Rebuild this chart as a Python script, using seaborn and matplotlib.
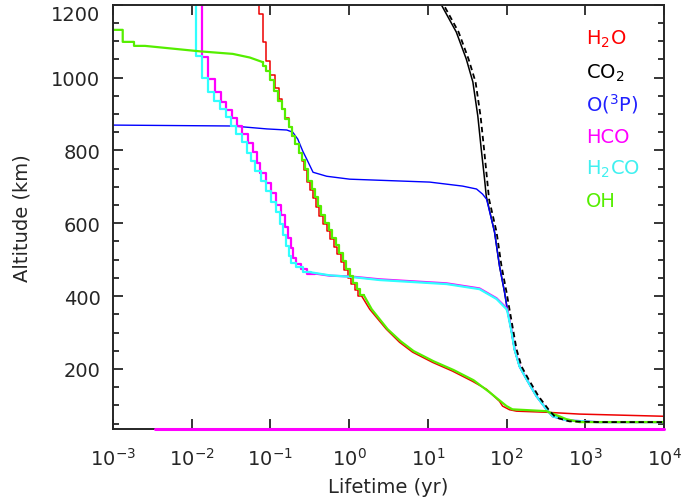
import matplotlib
matplotlib.use("Agg")
import matplotlib.pyplot as plt
import matplotlib.ticker as mticker
import seaborn as sns

# lifetime (yr) vs altitude (km)
h2o_step_x = [0.0712, 0.0808, 0.0892, 0.1003, 0.1137, 0.1278, 0.1408, 0.1554, 0.1713, 0.1885,
              0.2083, 0.2293, 0.2504, 0.2654, 0.2896, 0.3162, 0.3452, 0.3769, 0.4175, 0.4665,
              0.5166, 0.574, 0.6357, 0.7063, 0.7822, 0.8692, 0.9627, 1.070, 1.178, 1.305, 1.445]
h2o_step_alt = [1260, 1174, 1097, 1046, 1007, 970, 941, 913, 888, 863,
                840, 817, 794, 771, 746, 713, 691, 669, 644, 620,
                599, 578, 557, 536, 515, 493, 472, 451, 433, 416, 400]
h2o_tail_x = [1.445, 1.826, 2.974, 4.386, 6.415, 11.5, 20.6, 37.0, 55.8, 81.5, 89, 109, 134, 322, 844, 1e4]
h2o_tail_alt = [400, 364, 309, 273, 246, 218, 194, 166, 144, 111, 98, 88, 84, 81, 76, 70]

co2_x = [13.0, 14.84, 23.0, 30.8, 37.35, 43.2, 47.7, 52.6, 55.3, 70.4, 81.5, 94.3, 103, 116, 126,
         146, 179, 240, 322, 384, 577, 1387, 1e4]
co2_alt = [1230, 1200, 1125, 1051, 988, 894, 804, 721, 674, 576, 482, 411, 360, 301, 254,
           207, 172, 125, 89, 70, 59, 54, 54]

co2b_x = [14.0, 15.87, 24.6, 32.9, 40.4, 46.8, 51.8, 56.6, 60.0, 74.7, 86.4, 100, 109, 122.7, 134,
          155, 190, 255, 341, 419, 630, 1514, 1e4]
co2b_alt = [1230, 1200, 1125, 1051, 988, 894, 804, 721, 666, 576, 482, 411, 364, 301, 254,
            207, 172, 125, 89, 67, 56, 54, 54]

o3p_x = [5e-4, 0.0333, 0.090, 0.1615, 0.1924, 0.2227, 0.2578, 0.2896, 0.3482, 0.5195, 1.018,
         2.445, 10.54, 27.64, 41.6, 49.6, 55.8, 70.4, 81.5, 94.3, 103, 116, 126, 146, 179, 240,
         322, 384, 577, 1387, 1e4]
o3p_alt = [870, 867, 859, 856, 850, 831, 798, 776, 740, 729, 721,
           718, 713, 702, 694, 680, 666, 576, 482, 411, 360, 301, 254, 207, 172, 125,
           89, 70, 59, 54, 54]

hco_step_x = [0.01358, 0.0162, 0.0197, 0.02327, 0.02716, 0.03208, 0.03747, 0.04335, 0.0521, 0.0603,
              0.0672, 0.0744, 0.0874, 0.1027, 0.1188, 0.1355, 0.1523, 0.1663, 0.1815, 0.1964,
              0.2132, 0.2431, 0.2896, 0.366]
hco_step_alt = [1260, 1056, 996, 960, 933, 911, 889, 867, 845, 820,
                795, 765, 738, 710, 683, 650, 622, 589, 559, 532,
                504, 488, 474, 462]
hco_tail_x = [0.366, 0.567, 1.02, 2.45, 17.3, 45.4, 74.7, 100, 104, 117, 127, 147, 180, 241,
              323, 385, 577, 1387, 1e4]
hco_tail_alt = [462, 456, 454, 446, 435, 421, 394, 367, 356, 301, 254, 207, 172, 125,
                89, 70, 59, 54, 54]
hco_floor_x = [0.0034, 1e4]
hco_floor_alt = [35, 35]

h2co_step_x = [0.0113, 0.01358, 0.0162, 0.0193, 0.0228, 0.0269, 0.0314, 0.0371, 0.0438, 0.0506,
               0.0559, 0.0634, 0.0755, 0.0892, 0.103, 0.117, 0.132, 0.145, 0.157, 0.171,
               0.185, 0.214, 0.260, 0.332]
h2co_step_alt = [1260, 1059, 999, 961, 935, 913, 891, 868, 845, 822,
                 794, 771, 744, 716, 689, 657, 630, 598, 567, 538,
                 510, 492, 479, 465]
h2co_tail_x = [0.332, 0.567, 1.02, 2.45, 17.3, 45.4, 74.7, 100, 103, 116, 126, 146, 179, 240,
               322, 384, 577, 1387, 1e4]
h2co_tail_alt = [465, 457, 453, 444, 433, 419, 392, 364, 356, 301, 254, 207, 172, 125,
                 89, 70, 59, 54, 54]

oh_top_x = [8e-4, 0.00133, 0.00133, 0.00185, 0.00185, 0.00255, 0.0127, 0.0333, 0.0548, 0.0808]
oh_top_alt = [1131, 1131, 1098, 1098, 1087, 1087, 1072, 1065, 1055, 1042]
oh_step_x = [0.0808, 0.0892, 0.1003, 0.1104, 0.1252, 0.1408, 0.1554, 0.1713, 0.1885, 0.2083,
             0.2293, 0.2526, 0.2732, 0.2983, 0.3352, 0.366, 0.3995, 0.4424, 0.4946, 0.5477,
             0.6085, 0.674, 0.749, 0.8293, 0.9215, 1.021, 1.134, 1.249, 1.383, 1.532]
oh_step_alt = [1042, 1032, 1019, 993, 964, 936, 913, 886, 863, 840,
               817, 794, 773, 749, 716, 694, 672, 647, 623, 602,
               581, 560, 539, 517, 496, 475, 454, 436, 419, 403]
oh_tail_x = [1.532, 1.936, 3.089, 4.516, 6.604, 11.85, 21.25, 38.1, 60.8, 100, 119, 322, 577, 844, 1e4]
oh_tail_alt = [403, 364, 309, 276, 249, 221, 197, 169, 136, 98, 89, 84, 62, 54, 54]

species = ["H$_2$O", "CO$_2$", "O($^3$P)", "HCO", "H$_2$CO", "OH"]
text_colors = ["#ff0000", "#000000", "#2020ff", "#ff00ff", "#40f0f0", "#55ee00"]

sns.set_style("ticks")
plt.rcParams['font.family'] = ['DejaVu Sans']
plt.rcParams['mathtext.default'] = 'regular'

fig = plt.figure(figsize=(6.83, 5.02), dpi=100)
ax = fig.add_axes([0.1654, 0.1434, 0.8067, 0.8452])
ax.set_xscale('log')


def draw(xs, ys, color, lw, steps=False, **kw):
	sns.lineplot(x=xs, y=ys, sort=False, estimator=None, color=color, lw=lw, ax=ax,
		drawstyle='steps-pre' if steps else 'default', **kw)


# draw order as in the legend, dashed curve on top
draw(h2o_step_x, h2o_step_alt, "#ee0000", 1.1, steps=True)
draw(h2o_tail_x, h2o_tail_alt, "#ee0000", 1.1)
draw(co2_x, co2_alt, "black", 1.1)
draw(o3p_x, o3p_alt, "#0000ff", 1.0)
draw(hco_step_x, hco_step_alt, "#ff00ff", 1.6, steps=True)
draw(hco_tail_x, hco_tail_alt, "#ff00ff", 1.6)
draw(h2co_step_x, h2co_step_alt, "#30ffff", 1.6, steps=True)
draw(h2co_tail_x, h2co_tail_alt, "#30ffff", 1.6)
draw(oh_top_x, oh_top_alt, "#55ee00", 1.6)
draw(oh_step_x, oh_step_alt, "#55ee00", 1.6, steps=True)
draw(oh_tail_x, oh_tail_alt, "#55ee00", 1.6)
draw(co2b_x, co2b_alt, "black", 1.3, dashes=False, linestyle=(0, (3, 2)))
sns.lineplot(x=hco_floor_x, y=hco_floor_alt, color="#ff00ff", lw=2.2, ax=ax,
	estimator=None, clip_on=False, zorder=5)

ax.set_xlim(1e-3, 1e4)
ax.set_ylim(35, 1200)
ax.xaxis.set_major_locator(mticker.LogLocator(base=10, numticks=20))
ax.xaxis.set_minor_locator(mticker.NullLocator())
ax.yaxis.set_major_locator(mticker.MultipleLocator(200))
ax.yaxis.set_minor_locator(mticker.MultipleLocator(50))
ax.tick_params(which='both', direction='in', top=True, right=True, width=1.3, labelsize=14)
ax.tick_params(which='major', length=7)
ax.tick_params(which='minor', length=4)
ax.tick_params(axis='x', pad=13)
ax.tick_params(axis='y', pad=9)
for sp in ax.spines.values():
	sp.set_linewidth(1.4)

ax.set_xlabel("Lifetime (yr)", fontsize=14, labelpad=6)
ax.set_ylabel("Altitude (km)", fontsize=14, labelpad=14)

ypos = [0.927, 0.848, 0.774, 0.695, 0.620, 0.544]
for name, col, yy in zip(species, text_colors, ypos):
	ax.text(0.858, yy, name, color=col, fontsize=14, transform=ax.transAxes,
		ha='left', va='center_baseline')

fig.canvas.draw()
for lab in ax.get_yticklabels():
	if lab.get_text() == '1200':
		lab.set_va('top')

fig.savefig("out.png", dpi=100)
